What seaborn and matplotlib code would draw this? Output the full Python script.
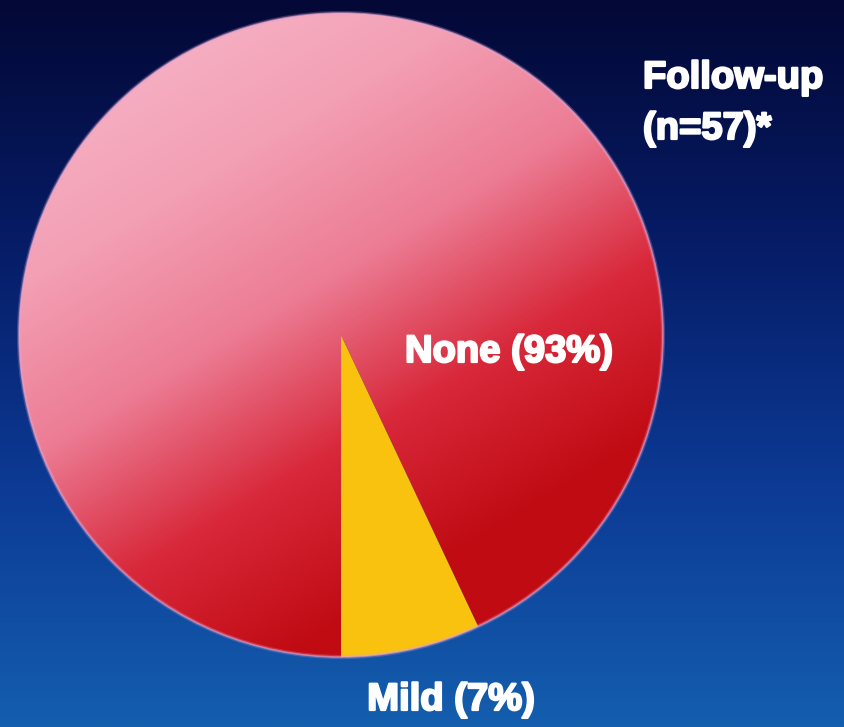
import numpy as np
import matplotlib
matplotlib.use("Agg")
import matplotlib.pyplot as plt
import matplotlib.patheffects as pe
import seaborn as sns

# Severity at follow-up
categories = ["Mild", "None"]
percent = [7, 93]
labels = ["Mild (7%)", "None (93%)"]
title_lines = ["Follow-up", "(n=57)*"]

sns.set_style("white")
plt.rcParams["font.family"] = ["Liberation Sans", "DejaVu Sans"]

W, H = 845, 727
fig = plt.figure(figsize=(W / 100, H / 100), dpi=100)
ax = fig.add_axes([0, 0, 1, 1])

# background: navy at the top fading to brighter blue at the bottom
bg_cmap = sns.blend_palette(["#030836", "#061c66", "#0c3a94", "#145eae"], as_cmap=True)
yy = np.linspace(0, 1, 400)[:, None]
ax.imshow(np.tile(yy, (1, 4)), cmap=bg_cmap, aspect="auto",
          extent=[0, W, 0, H], origin="upper", zorder=0)

cx, cy, r = 341, H - 335, 322
wedges, _ = ax.pie(percent, startangle=270, counterclock=True,
                   colors=["#f8c20e", "none"], center=(cx, cy), radius=r,
                   wedgeprops=dict(linewidth=0), frame=False)
for w in wedges:
    w.set_zorder(3)

# pink-to-red shading inside the large wedge (light at upper left, deep red at lower right)
none_wedge = wedges[1]
n = 500
gx, gy = np.meshgrid(np.linspace(-1, 1, n), np.linspace(-1, 1, n))  # gy downwards
t = 0.6 * gx + gy
t = np.clip((t + 1.3) / 2.2, 0, 1)
shade = sns.blend_palette(["#f7b2c5", "#f39fb4", "#ec7c94", "#d8283a", "#c00b13"], as_cmap=True)
img = ax.imshow(t, cmap=shade, vmin=0, vmax=1, origin="upper",
                extent=[cx - r, cx + r, cy - r, cy + r], zorder=2, interpolation="bilinear")
img.set_clip_path(none_wedge)

# soft rim around the disc
for lw, a in [(3.0, 0.25), (1.2, 0.6)]:
    ax.add_patch(plt.Circle((cx, cy), r, fill=False, edgecolor="#e6a6d0", lw=lw, alpha=a, zorder=4))

txt = dict(color="white", fontweight="bold", fontsize=27.5, zorder=5,
           path_effects=[pe.withStroke(linewidth=1.6, foreground="white")])
ax.text(405, H - 352, labels[1], ha="left", va="center", **txt)
ax.text(451, H - 700, labels[0], ha="center", va="center", **txt)
ax.text(643, H - 78, title_lines[0], ha="left", va="center", **txt)
ax.text(643, H - 129, title_lines[1], ha="left", va="center", **txt)

ax.set_xlim(0, W)
ax.set_ylim(0, H)
ax.set_aspect("auto")
ax.axis("off")
fig.savefig("out.png", dpi=100)
